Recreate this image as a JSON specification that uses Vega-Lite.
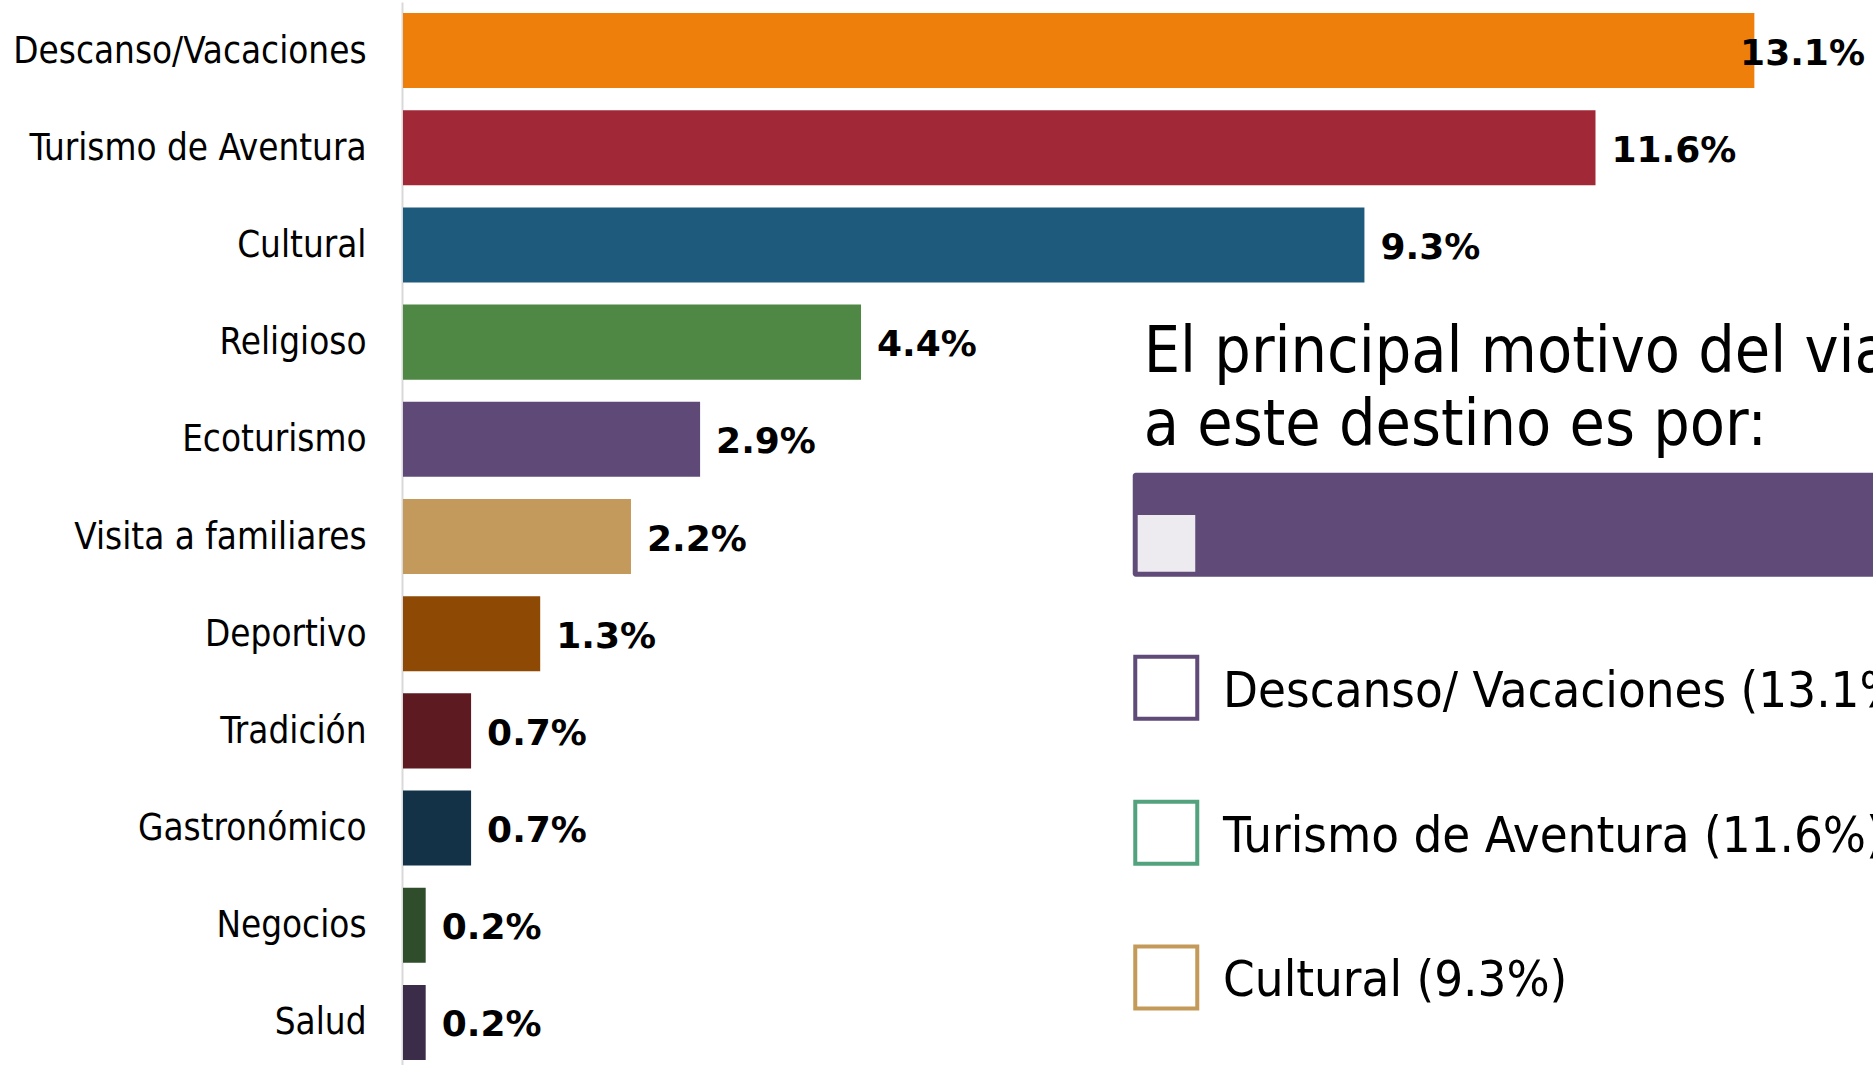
{
  "$schema": "https://vega.github.io/schema/vega-lite/v6.json",
  "width": 1470,
  "height": 1069,
  "autosize": "none",
  "padding": {"left": 403, "top": 2, "right": 0, "bottom": 0},
  "background": "white",
  "config": {"view": {"stroke": null}},
  "datasets": {
    "motivos": [
      {"motivo": "Descanso/Vacaciones", "valor": 0.131},
      {"motivo": "Turismo de Aventura", "valor": 0.1156},
      {"motivo": "Cultural", "valor": 0.0932},
      {"motivo": "Religioso", "valor": 0.0444},
      {"motivo": "Ecoturismo", "valor": 0.0288},
      {"motivo": "Visita a familiares", "valor": 0.0221},
      {"motivo": "Deportivo", "valor": 0.0133},
      {"motivo": "Tradición", "valor": 0.0066},
      {"motivo": "Gastronómico", "valor": 0.0066},
      {"motivo": "Negocios", "valor": 0.0022},
      {"motivo": "Salud", "valor": 0.0022}
    ]
  },
  "resolve": {"scale": {"y": "independent"}},
  "layer": [
    {
      "data": {"name": "motivos"},
      "encoding": {
        "y": {
          "field": "motivo",
          "type": "nominal",
          "sort": null,
          "scale": {"paddingInner": 0.228, "paddingOuter": 0.114},
          "axis": {
            "title": null,
            "ticks": false,
            "grid": false,
            "offset": 1,
            "domainColor": "#D9D9D9",
            "domainWidth": 2,
            "labelFont": "DejaVu Sans Condensed, DejaVu Sans",
            "labelFontSize": 36.5,
            "labelColor": "#000000",
            "labelPadding": 36,
            "labelOffset": 1,
            "labelLimit": 500
          }
        },
        "x": {
          "field": "valor",
          "type": "quantitative",
          "scale": {"domain": [0, 0.1425], "nice": false, "zero": true},
          "axis": null
        }
      },
      "layer": [
        {
          "mark": {"type": "bar"},
          "encoding": {
            "color": {
              "field": "motivo",
              "type": "nominal",
              "legend": null,
              "scale": {
                "domain": ["Descanso/Vacaciones", "Turismo de Aventura", "Cultural", "Religioso", "Ecoturismo", "Visita a familiares", "Deportivo", "Tradición", "Gastronómico", "Negocios", "Salud"],
                "range": ["#EF7F0B", "#A02837", "#1E5A7C", "#4F8844", "#5F4A77", "#C39A5B", "#8E4905", "#5E1A21", "#133248", "#2F4D2A", "#3B2D4A"]
              }
            }
          }
        },
        {
          "transform": [{"filter": "datum.valor < 0.13"}],
          "mark": {"type": "text", "align": "left", "baseline": "middle", "dx": 16, "dy": 3, "font": "DejaVu Sans", "fontWeight": "bold", "fontSize": 36, "color": "#000000"},
          "encoding": {"text": {"field": "valor", "type": "quantitative", "format": ".1%"}}
        },
        {
          "transform": [{"filter": "datum.valor >= 0.13"}],
          "mark": {"type": "text", "align": "right", "baseline": "middle", "dx": -8, "dy": 3, "font": "DejaVu Sans", "fontWeight": "bold", "fontSize": 36, "color": "#000000"},
          "encoding": {
            "x": {"datum": 0.1425, "type": "quantitative"},
            "text": {"field": "valor", "type": "quantitative", "format": ".1%"}
          }
        }
      ]
    },
    {
      "data": {"values": [{}]},
      "layer": [
        {
          "mark": {"type": "text", "align": "left", "baseline": "alphabetic", "font": "DejaVu Sans Condensed, DejaVu Sans", "fontSize": 64, "color": "#000000"},
          "encoding": {
            "x": {"datum": 0.0718, "type": "quantitative"},
            "y": {"datum": 3.804, "type": "quantitative", "scale": {"domain": [0, 11], "reverse": true, "nice": false, "zero": false}, "axis": null},
            "text": {"value": "El principal motivo del viaje"}
          }
        },
        {
          "mark": {"type": "text", "align": "left", "baseline": "alphabetic", "font": "DejaVu Sans Condensed, DejaVu Sans", "fontSize": 64, "color": "#000000"},
          "encoding": {
            "x": {"datum": 0.0718, "type": "quantitative"},
            "y": {"datum": 4.559, "type": "quantitative"},
            "text": {"value": "a este destino es por:"}
          }
        },
        {
          "mark": {"type": "rect", "color": "#5F4A78", "cornerRadius": 3},
          "encoding": {
            "x": {"datum": 0.07074, "type": "quantitative"},
            "x2": {"datum": 0.16},
            "y": {"datum": 4.844, "type": "quantitative"},
            "y2": {"datum": 5.914}
          }
        },
        {
          "mark": {"type": "rect", "color": "#EDEAF0"},
          "encoding": {
            "x": {"datum": 0.07122, "type": "quantitative"},
            "x2": {"datum": 0.0768},
            "y": {"datum": 5.279, "type": "quantitative"},
            "y2": {"datum": 5.862}
          }
        },
        {
          "mark": {"type": "point", "shape": "square", "filled": false, "size": 3844, "strokeWidth": 4, "color": "#5F4A78", "opacity": 1},
          "encoding": {"x": {"datum": 0.07399, "type": "quantitative"}, "y": {"datum": 7.057, "type": "quantitative"}}
        },
        {
          "mark": {"type": "point", "shape": "square", "filled": false, "size": 3844, "strokeWidth": 4, "color": "#52A27E", "opacity": 1},
          "encoding": {"x": {"datum": 0.07399, "type": "quantitative"}, "y": {"datum": 8.548, "type": "quantitative"}}
        },
        {
          "mark": {"type": "point", "shape": "square", "filled": false, "size": 3844, "strokeWidth": 4, "color": "#C39A5A", "opacity": 1},
          "encoding": {"x": {"datum": 0.07399, "type": "quantitative"}, "y": {"datum": 10.038, "type": "quantitative"}}
        },
        {
          "mark": {"type": "text", "align": "left", "baseline": "alphabetic", "font": "DejaVu Sans Condensed, DejaVu Sans", "fontSize": 50.5, "color": "#000000"},
          "encoding": {"x": {"datum": 0.0795, "type": "quantitative"}, "y": {"datum": 7.252, "type": "quantitative"}, "text": {"value": "Descanso/ Vacaciones (13.1%)"}}
        },
        {
          "mark": {"type": "text", "align": "left", "baseline": "alphabetic", "font": "DejaVu Sans Condensed, DejaVu Sans", "fontSize": 50.5, "color": "#000000"},
          "encoding": {"x": {"datum": 0.0795, "type": "quantitative"}, "y": {"datum": 8.742, "type": "quantitative"}, "text": {"value": "Turismo de Aventura (11.6%)"}}
        },
        {
          "mark": {"type": "text", "align": "left", "baseline": "alphabetic", "font": "DejaVu Sans Condensed, DejaVu Sans", "fontSize": 50.5, "color": "#000000"},
          "encoding": {"x": {"datum": 0.0795, "type": "quantitative"}, "y": {"datum": 10.231, "type": "quantitative"}, "text": {"value": "Cultural (9.3%)"}}
        }
      ]
    }
  ]
}
